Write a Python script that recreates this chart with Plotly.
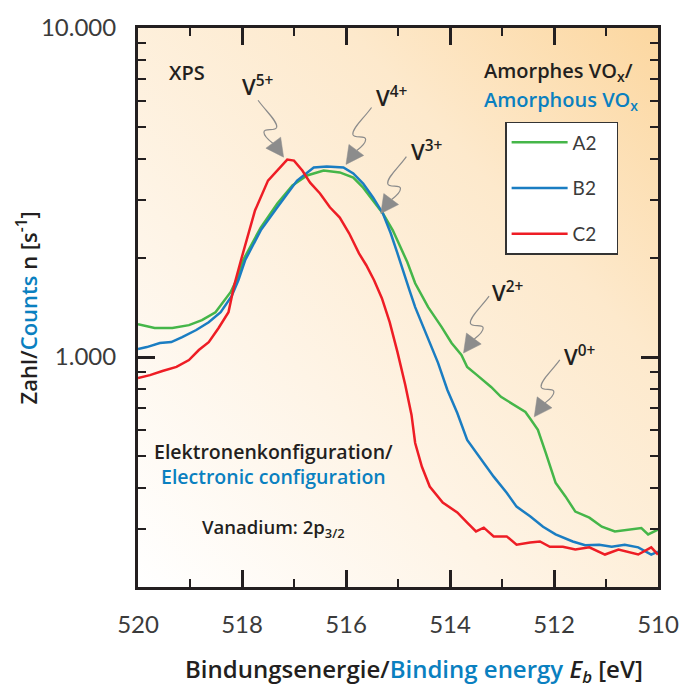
import base64
import math
import plotly.graph_objects as go

# ---- XPS V 2p3/2 spectra of amorphous VOx films ----
energy_a2 = [520.00, 519.68, 519.34, 519.02, 518.77, 518.51, 518.22, 518.09, 517.98, 517.64,
             517.32, 517.03, 516.75, 516.43, 516.12, 515.86, 515.67, 515.48, 515.29, 515.10,
             514.95, 514.82, 514.67, 514.42, 514.16, 513.97, 513.78, 513.67, 513.48, 513.21,
             513.02, 512.78, 512.55, 512.44, 512.31, 512.16, 511.97, 511.78, 511.59, 511.32,
             511.08, 510.83, 510.57, 510.32, 510.19, 510.00]
counts_a2 = [1259, 1225, 1225, 1250, 1294, 1368, 1574, 1734, 1968, 2475,
             2929, 3321, 3562, 3690, 3640, 3511, 3272, 2991, 2731, 2427,
             2155, 1941, 1676, 1418, 1233, 1103, 1014, 933, 881, 811,
             757, 716, 681, 644, 601, 512, 415, 377, 339, 325,
             305, 295, 299, 302, 289, 299]

energy_b2 = [520.00, 519.83, 519.58, 519.36, 519.15, 518.88, 518.64, 518.41, 518.20, 518.07,
             517.94, 517.64, 517.32, 516.94, 516.62, 516.37, 516.05, 515.86, 515.67, 515.48,
             515.29, 515.14, 515.01, 514.90, 514.78, 514.67, 514.42, 514.23, 514.05, 513.86,
             513.67, 513.40, 513.16, 512.91, 512.72, 512.46, 512.21, 511.97, 511.64, 511.40,
             511.13, 510.89, 510.64, 510.38, 510.13, 510.00]
counts_b2 = [1057, 1072, 1103, 1110, 1150, 1208, 1276, 1368, 1531, 1711,
             1968, 2427, 2851, 3438, 3768, 3793, 3768, 3614, 3367, 3055,
             2731, 2377, 2065, 1811, 1597, 1418, 1127, 960, 794, 676,
             560, 487, 433, 387, 351, 328, 305, 289, 275, 268,
             269, 265, 269, 264, 251, 256]

energy_c2 = [520.00, 519.77, 519.53, 519.26, 519.02, 518.83, 518.64, 518.45, 518.26, 518.15,
             518.02, 517.75, 517.50, 517.28, 517.13, 517.00, 516.84, 516.69, 516.50, 516.31,
             516.12, 515.94, 515.75, 515.61, 515.46, 515.31, 515.16, 515.01, 514.86, 514.74,
             514.67, 514.54, 514.39, 514.14, 513.86, 513.67, 513.50, 513.35, 513.16, 512.91,
             512.72, 512.46, 512.27, 512.08, 511.83, 511.59, 511.32, 511.02, 510.76, 510.38,
             510.13, 510.00]
counts_c2 = [863, 881, 907, 933, 979, 1050, 1110, 1225, 1368, 1652,
             1968, 2788, 3438, 3768, 3981, 3953, 3690, 3388, 3140, 2851,
             2654, 2377, 2065, 1901, 1711, 1510, 1276, 1035, 822, 667,
             548, 464, 404, 361, 337, 314, 295, 303, 285, 285,
             269, 273, 275, 265, 265, 260, 264, 251, 260, 251,
             264, 251]

series_names = ["A2", "B2", "C2"]
series_colors = ["#45b649", "#1a7dc2", "#ee1d25"]

# axis scales and labels
x_range = [520, 510]
x_major = [520, 518, 516, 514, 512, 510]
x_minor = [519, 517, 515, 513, 511]
y_range = [200, 10000]
y_major = [1000, 10000]
y_major_text = ["1.000", "10.000"]
y_minor = [300, 400, 500, 600, 700, 800, 900, 2000, 3000, 4000, 5000, 6000, 7000, 8000, 9000]

# oxidation-state markers: label, energy (eV), counts at arrow tip
state_labels = ["V<sup>5+</sup>", "V<sup>4+</sup>", "V<sup>3+</sup>", "V<sup>2+</sup>", "V<sup>0+</sup>"]
state_energy = [517.2, 516.0, 515.33, 513.74, 512.38]
state_counts = [4050, 3850, 2730, 1028, 658]

DARK = "#231f20"
BLUE = "#0a80c0"
GREY = "#8c8c8c"

FIG_W, FIG_H = 691, 691
M_L, M_R, M_T, M_B = 138, 24, 27, 104
PW, PH = FIG_W - M_L - M_R, FIG_H - M_T - M_B


def to_paper(e, c):
    fx = (x_range[0] - e) / (x_range[0] - x_range[1])
    ly0, ly1 = math.log10(y_range[0]), math.log10(y_range[1])
    fy = (math.log10(c) - ly0) / (ly1 - ly0)
    return fx, fy


def off(px, py, dx, dy):
    # pixel offset (y downward) from a paper point
    return px + dx / PW, py - dy / PH


fig = go.Figure()

# trailing no-break spaces give the legend box some right-hand padding
for name, col, xs, ys in zip(series_names, series_colors,
                             [energy_a2, energy_b2, energy_c2],
                             [counts_a2, counts_b2, counts_c2]):
    fig.add_trace(go.Scatter(x=xs, y=ys, mode="lines", name=name + "\u00a0\u00a0\u00a0",
                             legendgroup=name, line=dict(color=col, width=2.5)))

# warm background gradient
svg = ('<svg xmlns="http://www.w3.org/2000/svg" width="200" height="200" viewBox="0 0 200 200" '
       'preserveAspectRatio="none"><defs><linearGradient id="g" x1="0" y1="1" x2="1" y2="0">'
       '<stop offset="0" stop-color="#ffffff"/><stop offset="0.35" stop-color="#fef4e6"/>'
       '<stop offset="0.7" stop-color="#fde9cc"/><stop offset="1" stop-color="#fcd7a0"/>'
       '</linearGradient></defs><rect x="0" y="0" width="200" height="200" fill="url(#g)"/></svg>')
bg_src = "data:image/svg+xml;base64," + base64.b64encode(svg.encode()).decode()

shapes = []
annotations = []

# curly arrows pointing at the oxidation states
wiggle = [(-26, -57), (-18, -46), (-6, -36), (-7, -30), (-8, -25), (-20, -30),
          (-20, -25), (-20, -21), (-15, -17), (-11, -14)]
head = [(0, 0), (-18, -9), (-3, -20)]
label_off = [(-26, -72), (47, -68), (47, -63), (45, -62), (47, -61)]
for i, (lab, e, c) in enumerate(zip(state_labels, state_energy, state_counts)):
    tx, ty = to_paper(e, c)
    s = 1 if i == 0 else -1
    pts = [off(tx, ty, s * dx, dy) for dx, dy in wiggle]
    p = "M{:.5f},{:.5f}".format(*pts[0])
    for k in range(1, len(pts), 3):
        p += " C{:.5f},{:.5f} {:.5f},{:.5f} {:.5f},{:.5f}".format(*pts[k], *pts[k + 1], *pts[k + 2])
    shapes.append(dict(type="path", xref="paper", yref="paper", path=p,
                       line=dict(color=GREY, width=1.2)))
    hp = [off(tx, ty, s * dx, dy) for dx, dy in head]
    hpath = "M{:.5f},{:.5f} L{:.5f},{:.5f} L{:.5f},{:.5f} Z".format(*hp[0], *hp[1], *hp[2])
    shapes.append(dict(type="path", xref="paper", yref="paper", path=hpath,
                       fillcolor=GREY, line=dict(color=GREY, width=0.5)))
    lx, ly = off(tx, ty, *label_off[i])
    annotations.append(dict(x=lx, y=ly, xref="paper", yref="paper", text=lab, showarrow=False,
                            xanchor="center", yanchor="middle",
                            font=dict(family="Open Sans", size=22, color=DARK, weight=600)))

TXT = dict(family="Open Sans", size=19.5, color=DARK, weight=600)


def note(x, y, text, color=DARK, xanchor="center", size=19.5):
    annotations.append(dict(x=x, y=y, xref="paper", yref="paper", text=text, showarrow=False,
                            xanchor=xanchor, yanchor="middle",
                            font=dict(TXT, color=color, size=size)))


note(0.0945, 0.92, "XPS", size=20)
note(0.6616, 0.923, "Amorphes VO<sub>x</sub>/", xanchor="left", size=20)
note(0.6616, 0.871, "Amorphous VO<sub>x</sub>", color=BLUE, xanchor="left", size=20)
note(0.2609, 0.2205,
     f'Elektronenkonfiguration/<br><span style="color:{BLUE}">Electronic configuration</span>')
note(0.2609, 0.105, "Vanadium: 2p<sub>3/2</sub>", size=18.5)

# axis titles
annotations.append(dict(
    x=0.531, y=-0.148, xref="paper", yref="paper", showarrow=False,
    xanchor="center", yanchor="middle",
    text=(f'Bindungsenergie/<span style="color:{BLUE}">Binding energy</span> '
          '<i>E<sub>b</sub></i> [eV]'),
    font=dict(family="Open Sans", size=24, color=DARK, weight=600)))
annotations.append(dict(
    x=-0.2136, y=0.5, xref="paper", yref="paper", showarrow=False, textangle=-90,
    xanchor="center", yanchor="middle",
    text=f'Zahl/<span style="color:{BLUE}">Counts</span> n [s<sup>-1</sup>]',
    font=dict(family="Open Sans", size=22, color=DARK, weight=600)))

tick_font = dict(family="Lato", size=24, color="#3b3b3b")
axis_common = dict(showline=True, linecolor=DARK, linewidth=3, mirror="allticks",
                   ticks="inside", ticklen=17, tickwidth=2.5, tickcolor=DARK,
                   showgrid=False, zeroline=False, tickfont=tick_font)

fig.update_layout(
    width=FIG_W, height=FIG_H,
    margin=dict(l=M_L, r=M_R, t=M_T, b=M_B),
    paper_bgcolor="white", plot_bgcolor="rgba(0,0,0,0)",
    images=[dict(source=bg_src, xref="paper", yref="paper", x=0, y=1, sizex=1, sizey=1,
                 sizing="stretch", xanchor="left", yanchor="top", layer="below")],
    xaxis=dict(axis_common, range=x_range, tickmode="array", tickvals=x_major,
               ticktext=[str(v) for v in x_major], ticklabelstandoff=14,
               minor=dict(ticks="inside", ticklen=8, tickwidth=1.5, tickcolor=DARK,
                          tickmode="array", tickvals=x_minor)),
    yaxis=dict(axis_common, type="log", range=[math.log10(y_range[0]), math.log10(y_range[1])],
               tickmode="array", tickvals=y_major, ticktext=y_major_text, ticklabelstandoff=14,
               minor=dict(ticks="inside", ticklen=8, tickwidth=1.5, tickcolor=DARK,
                          tickmode="array", tickvals=y_minor)),
    legend=dict(x=0.706, y=0.832, xanchor="left", yanchor="top", bgcolor="white",
                bordercolor="#333333", borderwidth=1.5, tracegroupgap=18,
                itemwidth=56,
                font=dict(family="Lato", size=19, color="#3b3b3b")),
    shapes=shapes,
    annotations=annotations,
)

fig.write_html("out.html")
